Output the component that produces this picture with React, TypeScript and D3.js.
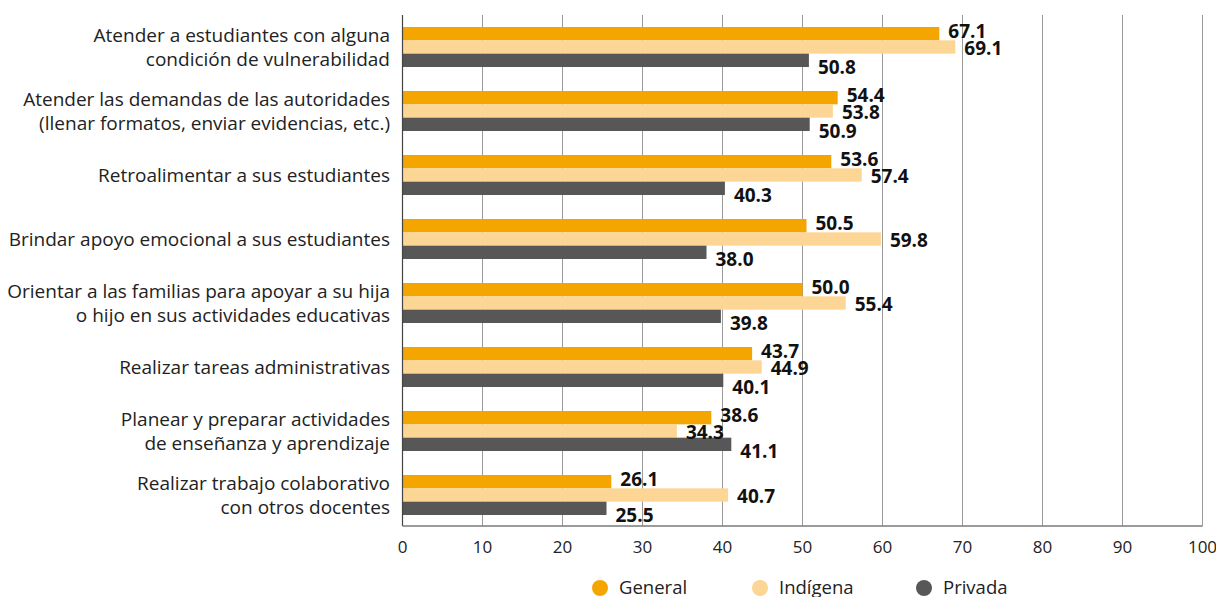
import * as d3 from 'd3';

// categories, top to bottom (line breaks as in the original)
const categories = [
    ['Atender a estudiantes con alguna', 'condición de vulnerabilidad'],
    ['Atender las demandas de las autoridades', '(llenar formatos, enviar evidencias, etc.)'],
    ['Retroalimentar a sus estudiantes'],
    ['Brindar apoyo emocional a sus estudiantes'],
    ['Orientar a las familias para apoyar a su hija', 'o hijo en sus actividades educativas'],
    ['Realizar tareas administrativas'],
    ['Planear y preparar actividades', 'de enseñanza y aprendizaje'],
    ['Realizar trabajo colaborativo', 'con otros docentes'],
];

const seriesNames = ['General', 'Indígena', 'Privada'];
const general = [67.1, 54.4, 53.6, 50.5, 50.0, 43.7, 38.6, 26.1];
const indigena = [69.1, 53.8, 57.4, 59.8, 55.4, 44.9, 34.3, 40.7];
const privada = [50.8, 50.9, 40.3, 38.0, 39.8, 40.1, 41.1, 25.5];
const xTicks = [0, 10, 20, 30, 40, 50, 60, 70, 80, 90, 100];

const colors = ['#f5a500', '#fdd594', '#575757'];
const labelShift = [4.5, 7.5, 14];

const W = 1216;
const H = 597;
const FONT = '"Open Sans", "Noto Sans", sans-serif';

export default function App() {
    const series = [general, indigena, privada];
    const keys = categories.map((_, i) => String(i));

    const x = d3.scaleLinear().domain([0, 100]).range([402.5, 1202.5]);
    const y = d3.scaleBand()
        .domain(keys)
        .range([15, 527])
        .paddingInner(0.375)
        .paddingOuter(0.1875);
    const inner = d3.scaleBand()
        .domain(seriesNames)
        .range([0, y.bandwidth()]);

    const top = 15;
    const bottom = 526;

    return (
        <svg width={W} height={H} style={{ position: 'absolute', left: 0, top: 0, fontFamily: FONT }}>
            {/* grid */}
            {xTicks.slice(1).map(t => (
                <line key={t} x1={x(t)} x2={x(t)} y1={top} y2={bottom} stroke="#9a9a9a" strokeWidth={1} />
            ))}

            {/* bars */}
            {keys.map((k, i) => (
                <g key={k} transform={`translate(0,${y(k)})`}>
                    {series.map((s, j) => (
                        <rect key={j}
                            x={x(0)}
                            y={inner(seriesNames[j])}
                            width={x(s[i]) - x(0)}
                            height={inner.bandwidth()}
                            fill={colors[j]} />
                    ))}
                </g>
            ))}

            {/* axes */}
            <line x1={x(0)} x2={x(0)} y1={top} y2={bottom} stroke="#444" strokeWidth={1.2} />
            <line x1={x(0)} x2={x(100)} y1={bottom} y2={bottom} stroke="#7a7a7a" strokeWidth={1.5} />
            {xTicks.map(t => (
                <text key={t} x={x(t)} y={553} textAnchor="middle" fontSize={17} fill="#222">{t}</text>
            ))}

            {/* value labels */}
            {keys.map((k, i) => (
                <g key={k}>
                    {series.map((s, j) => (
                        <text key={j}
                            x={x(s[i]) + 9}
                            y={(y(k) as number) + (inner(seriesNames[j]) as number) + inner.bandwidth() / 2 + labelShift[j]}
                            fontSize={19} fontWeight={700} fill="#111">
                            {s[i].toFixed(1)}
                        </text>
                    ))}
                </g>
            ))}

            {/* category labels */}
            {categories.map((lines, i) => {
                const cy = (y(keys[i]) as number) + y.bandwidth() / 2 + 7;
                const start = cy - ((lines.length - 1) * 24) / 2;
                return (
                    <text key={i} textAnchor="end" fontSize={19} fill="#222">
                        {lines.map((ln, li) => (
                            <tspan key={li} x={390} y={start + li * 24}>{ln}</tspan>
                        ))}
                    </text>
                );
            })}

            {/* legend */}
            {seriesNames.map((n, j) => {
                const lx = [600, 760, 924][j];
                return (
                    <g key={n}>
                        <circle cx={lx} cy={588} r={8} fill={colors[j]} />
                        <text x={lx + 19} y={594} fontSize={18.5} fill="#222">{n}</text>
                    </g>
                );
            })}
        </svg>
    );
}
